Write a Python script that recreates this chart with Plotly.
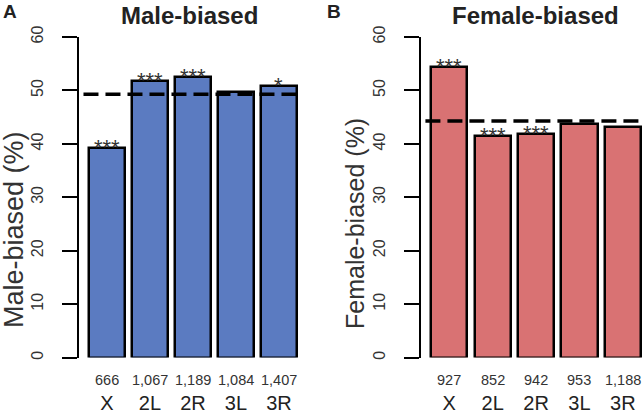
import plotly.graph_objects as go

W, H = 642, 413
FONT = "Liberation Sans, Arial, Helvetica, sans-serif"

categories = ["X", "2L", "2R", "3L", "3R"]
male_values = [39.2, 51.7, 52.6, 49.7, 50.9]
male_counts = ["666", "1,067", "1,189", "1,084", "1,407"]
male_sig = ["***", "***", "***", "", "*"]
male_expected = 49.3

female_values = [54.4, 41.4, 41.8, 43.7, 43.2]
female_counts = ["927", "852", "942", "953", "1,188"]
female_sig = ["***", "***", "***", "", ""]
female_expected = 44.3

y_ticks = [0, 10, 20, 30, 40, 50, 60]

BLUE = "#5b7bc1"
RED = "#d97273"


def px(x):
    return x / W


def py(y):
    return 1 - y / H


fig = go.Figure()

fig.add_trace(go.Bar(x=categories, y=male_values, marker=dict(color=BLUE, line=dict(color="black", width=2.5)),
                     width=0.835, xaxis="x", yaxis="y", showlegend=False, hoverinfo="skip"))
fig.add_trace(go.Bar(x=categories, y=female_values, marker=dict(color=RED, line=dict(color="black", width=2.5)),
                     width=0.835, xaxis="x2", yaxis="y2", showlegend=False, hoverinfo="skip"))

ydom = [py(357.6), py(37.0)]

xax_common = dict(showline=False, showgrid=False, zeroline=False, ticks="", automargin=False,
                  tickfont=dict(family=FONT, size=20, color="#222"), ticklabelstandoff=31,
                  categoryorder="array", categoryarray=categories)
yax_common = dict(range=[0, 60], tickvals=y_ticks, showline=True, linewidth=2, linecolor="black",
                  ticks="outside", ticklen=15, tickwidth=2, tickcolor="black", showgrid=False,
                  zeroline=False, tickangle=-90, tickfont=dict(family=FONT, size=16, color="#333"),
                  ticklabelstandoff=13, domain=ydom, automargin=False)

fig.update_layout(
    width=W, height=H, margin=dict(l=0, r=0, t=0, b=0, pad=0, autoexpand=False),
    paper_bgcolor="white", plot_bgcolor="white",
    xaxis=dict(domain=[px(79), px(303)], range=[-0.65, 4.56], anchor="y", **xax_common),
    yaxis=dict(anchor="x", **yax_common),
    xaxis2=dict(domain=[px(421), 1.0], range=[-0.65, 4.44], anchor="y2", **xax_common),
    yaxis2=dict(anchor="x2", **yax_common),
    bargap=0,
)

shapes = []
for xr, yr, val in [("x", "y", male_expected), ("x2", "y2", female_expected)]:
    shapes.append(dict(type="line", xref=f"{xr} domain", yref=yr, x0=0.02, x1=0.98 if xr == "x" else 1,
                       y0=val, y1=val, line=dict(color="black", width=3.5, dash="15px,7px")))
fig.update_layout(shapes=shapes)

ann = []
for xr, vals, counts, sig in [("x", male_values, male_counts, male_sig),
                              ("x2", female_values, female_counts, female_sig)]:
    for c, v, n, s in zip(categories, vals, counts, sig):
        ann.append(dict(x=c, y=py(380), xref=xr, yref="paper", text=n, showarrow=False,
                        font=dict(family=FONT, size=14.5, color="#333"), xanchor="center", yanchor="middle"))
        if s:
            ann.append(dict(x=c, y=v, xref=xr, yref="y" if xr == "x" else "y2", text=s, showarrow=False,
                            font=dict(family=FONT, size=22, color="#333"), xanchor="center",
                            yanchor="bottom", yshift=-14))

# titles and axis titles
ann += [
    dict(x=px(190), y=py(15), xref="paper", yref="paper", text="<b>Male-biased</b>", showarrow=False,
         font=dict(family=FONT, size=24, color="#222"), xanchor="center", yanchor="middle"),
    dict(x=px(535), y=py(15), xref="paper", yref="paper", text="<b>Female-biased</b>", showarrow=False,
         font=dict(family=FONT, size=24, color="#222"), xanchor="center", yanchor="middle"),
    dict(x=px(10), y=py(11), xref="paper", yref="paper", text="<b>A</b>", showarrow=False,
         font=dict(family=FONT, size=19, color="#222"), xanchor="center", yanchor="middle"),
    dict(x=px(334), y=py(11), xref="paper", yref="paper", text="<b>B</b>", showarrow=False,
         font=dict(family=FONT, size=19, color="#222"), xanchor="center", yanchor="middle"),
    dict(x=px(14), y=py(230), xref="paper", yref="paper", text="Male-biased (%)", showarrow=False,
         textangle=-90, font=dict(family=FONT, size=27, color="#333"), xanchor="center", yanchor="middle"),
    dict(x=px(355), y=py(224), xref="paper", yref="paper", text="Female-biased (%)", showarrow=False,
         textangle=-90, font=dict(family=FONT, size=25, color="#333"), xanchor="center", yanchor="middle"),
]
fig.update_layout(annotations=ann)

fig.write_html("out.html", config={"displayModeBar": False},
               post_script="document.body.style.margin='0';document.body.style.overflow='hidden';")
